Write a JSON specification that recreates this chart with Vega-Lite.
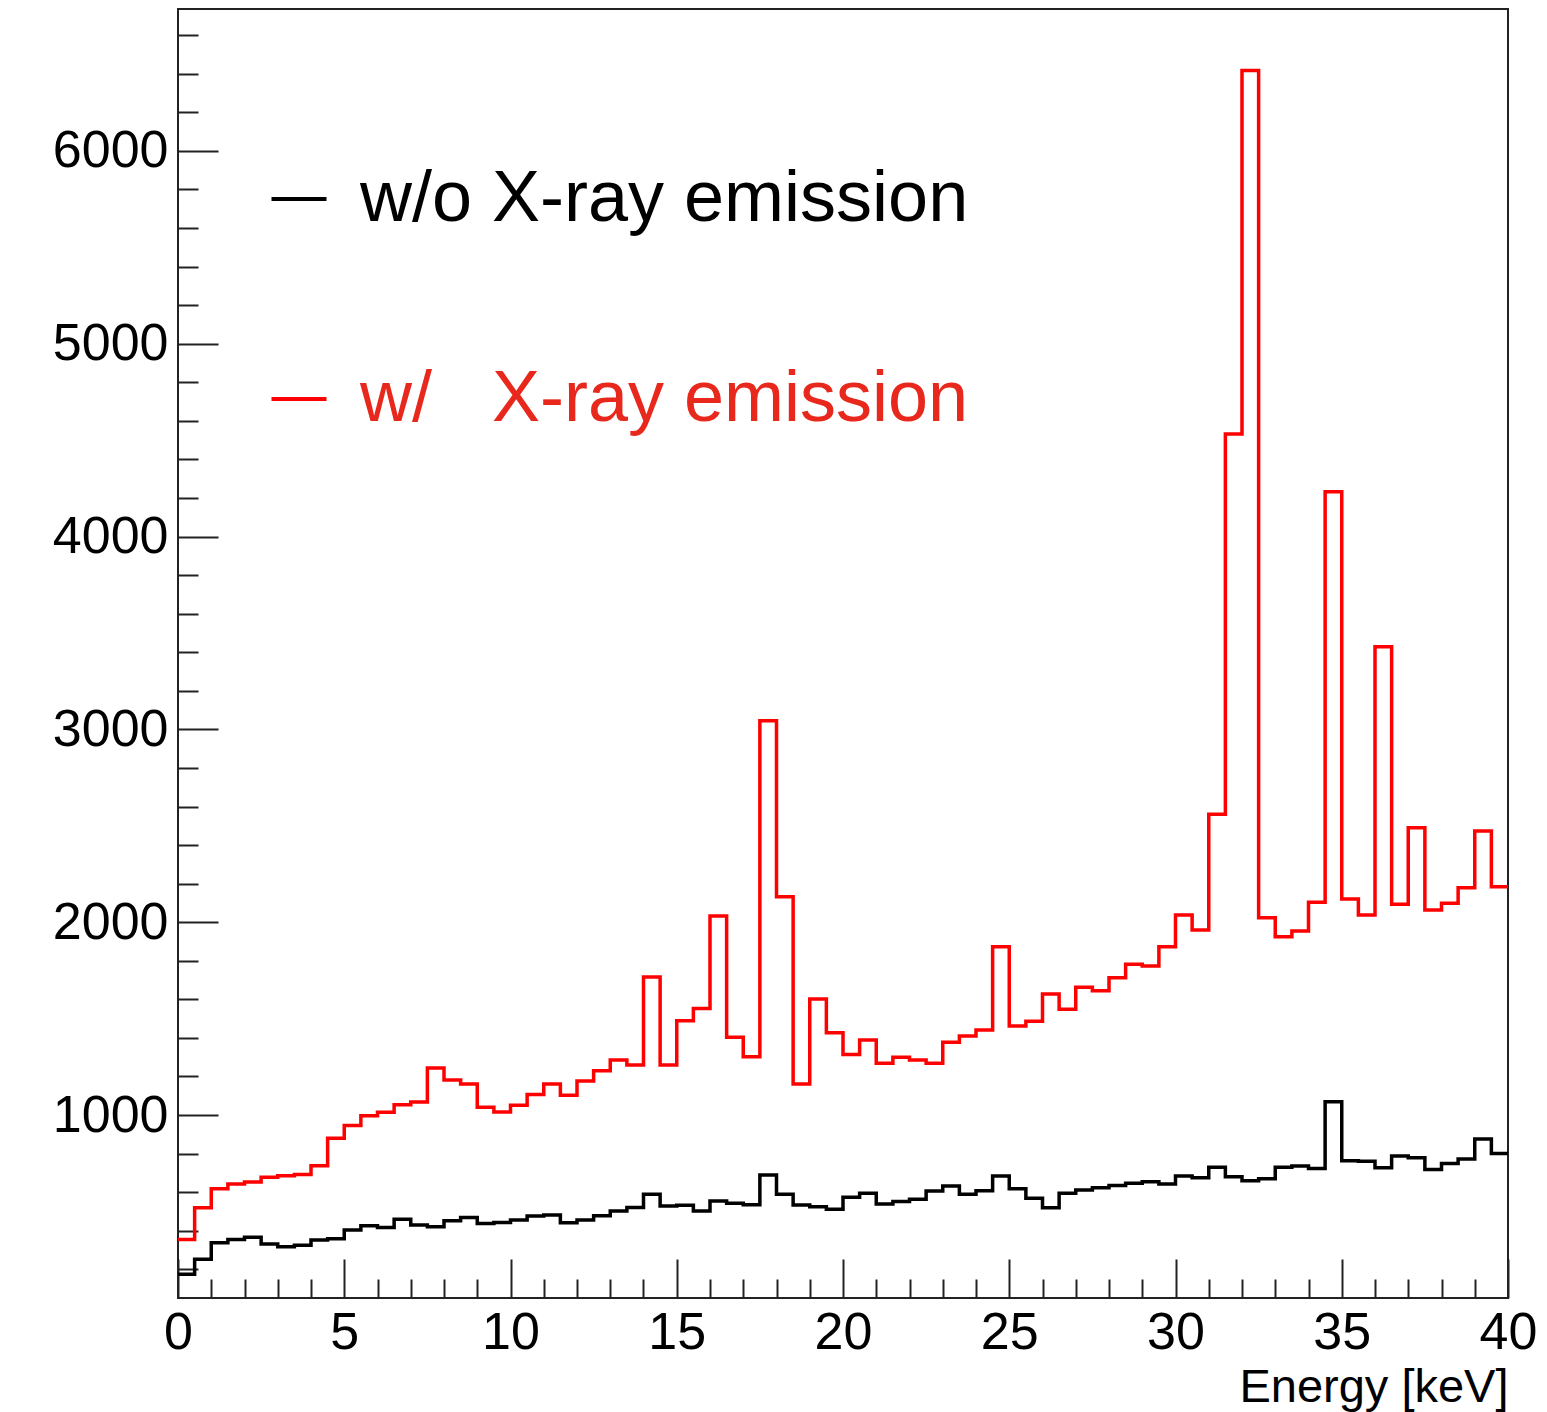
{
  "$schema": "https://vega.github.io/schema/vega-lite/v6.json",
  "width": 1330,
  "height": 1289,
  "autosize": "none",
  "padding": {"left": 178, "top": 9, "right": 39, "bottom": 114},
  "background": "white",
  "config": {
    "view": {"stroke": "#222222", "strokeWidth": 2},
    "font": "Liberation Sans"
  },
  "data": {
    "values": [
      {"s":"w/o","lo":0,"hi":0.5,"n":174},{"s":"w/o","lo":0.5,"hi":1,"n":252},{"s":"w/o","lo":1,"hi":1.5,"n":338},{"s":"w/o","lo":1.5,"hi":2,"n":355},
      {"s":"w/o","lo":2,"hi":2.5,"n":366},{"s":"w/o","lo":2.5,"hi":3,"n":331},{"s":"w/o","lo":3,"hi":3.5,"n":317},{"s":"w/o","lo":3.5,"hi":4,"n":324},
      {"s":"w/o","lo":4,"hi":4.5,"n":352},{"s":"w/o","lo":4.5,"hi":5,"n":358},{"s":"w/o","lo":5,"hi":5.5,"n":404},{"s":"w/o","lo":5.5,"hi":6,"n":426},
      {"s":"w/o","lo":6,"hi":6.5,"n":416},{"s":"w/o","lo":6.5,"hi":7,"n":459},{"s":"w/o","lo":7,"hi":7.5,"n":429},{"s":"w/o","lo":7.5,"hi":8,"n":421},
      {"s":"w/o","lo":8,"hi":8.5,"n":452},{"s":"w/o","lo":8.5,"hi":9,"n":469},{"s":"w/o","lo":9,"hi":9.5,"n":438},{"s":"w/o","lo":9.5,"hi":10,"n":443},
      {"s":"w/o","lo":10,"hi":10.5,"n":455},{"s":"w/o","lo":10.5,"hi":11,"n":476},{"s":"w/o","lo":11,"hi":11.5,"n":481},{"s":"w/o","lo":11.5,"hi":12,"n":441},
      {"s":"w/o","lo":12,"hi":12.5,"n":455},{"s":"w/o","lo":12.5,"hi":13,"n":478},{"s":"w/o","lo":13,"hi":13.5,"n":502},{"s":"w/o","lo":13.5,"hi":14,"n":521},
      {"s":"w/o","lo":14,"hi":14.5,"n":589},{"s":"w/o","lo":14.5,"hi":15,"n":528},{"s":"w/o","lo":15,"hi":15.5,"n":532},{"s":"w/o","lo":15.5,"hi":16,"n":502},
      {"s":"w/o","lo":16,"hi":16.5,"n":554},{"s":"w/o","lo":16.5,"hi":17,"n":542},{"s":"w/o","lo":17,"hi":17.5,"n":535},{"s":"w/o","lo":17.5,"hi":18,"n":689},
      {"s":"w/o","lo":18,"hi":18.5,"n":589},{"s":"w/o","lo":18.5,"hi":19,"n":533},{"s":"w/o","lo":19,"hi":19.5,"n":524},{"s":"w/o","lo":19.5,"hi":20,"n":511},
      {"s":"w/o","lo":20,"hi":20.5,"n":573},{"s":"w/o","lo":20.5,"hi":21,"n":594},{"s":"w/o","lo":21,"hi":21.5,"n":538},{"s":"w/o","lo":21.5,"hi":22,"n":552},
      {"s":"w/o","lo":22,"hi":22.5,"n":563},{"s":"w/o","lo":22.5,"hi":23,"n":606},{"s":"w/o","lo":23,"hi":23.5,"n":632},{"s":"w/o","lo":23.5,"hi":24,"n":589},
      {"s":"w/o","lo":24,"hi":24.5,"n":607},{"s":"w/o","lo":24.5,"hi":25,"n":684},{"s":"w/o","lo":25,"hi":25.5,"n":618},{"s":"w/o","lo":25.5,"hi":26,"n":568},
      {"s":"w/o","lo":26,"hi":26.5,"n":519},{"s":"w/o","lo":26.5,"hi":27,"n":594},{"s":"w/o","lo":27,"hi":27.5,"n":611},{"s":"w/o","lo":27.5,"hi":28,"n":623},
      {"s":"w/o","lo":28,"hi":28.5,"n":635},{"s":"w/o","lo":28.5,"hi":29,"n":646},{"s":"w/o","lo":29,"hi":29.5,"n":654},{"s":"w/o","lo":29.5,"hi":30,"n":642},
      {"s":"w/o","lo":30,"hi":30.5,"n":684},{"s":"w/o","lo":30.5,"hi":31,"n":675},{"s":"w/o","lo":31,"hi":31.5,"n":729},{"s":"w/o","lo":31.5,"hi":32,"n":680},
      {"s":"w/o","lo":32,"hi":32.5,"n":659},{"s":"w/o","lo":32.5,"hi":33,"n":670},{"s":"w/o","lo":33,"hi":33.5,"n":729},{"s":"w/o","lo":33.5,"hi":34,"n":735},
      {"s":"w/o","lo":34,"hi":34.5,"n":722},{"s":"w/o","lo":34.5,"hi":35,"n":1069},{"s":"w/o","lo":35,"hi":35.5,"n":763},{"s":"w/o","lo":35.5,"hi":36,"n":760},
      {"s":"w/o","lo":36,"hi":36.5,"n":727},{"s":"w/o","lo":36.5,"hi":37,"n":787},{"s":"w/o","lo":37,"hi":37.5,"n":779},{"s":"w/o","lo":37.5,"hi":38,"n":718},
      {"s":"w/o","lo":38,"hi":38.5,"n":749},{"s":"w/o","lo":38.5,"hi":39,"n":772},{"s":"w/o","lo":39,"hi":39.5,"n":876},{"s":"w/o","lo":39.5,"hi":40,"n":801},
      {"s":"w/","lo":0,"hi":0.5,"n":355},{"s":"w/","lo":0.5,"hi":1,"n":519},{"s":"w/","lo":1,"hi":1.5,"n":618},{"s":"w/","lo":1.5,"hi":2,"n":642},
      {"s":"w/","lo":2,"hi":2.5,"n":652},{"s":"w/","lo":2.5,"hi":3,"n":677},{"s":"w/","lo":3,"hi":3.5,"n":685},{"s":"w/","lo":3.5,"hi":4,"n":692},
      {"s":"w/","lo":4,"hi":4.5,"n":737},{"s":"w/","lo":4.5,"hi":5,"n":879},{"s":"w/","lo":5,"hi":5.5,"n":945},{"s":"w/","lo":5.5,"hi":6,"n":996},
      {"s":"w/","lo":6,"hi":6.5,"n":1014},{"s":"w/","lo":6.5,"hi":7,"n":1053},{"s":"w/","lo":7,"hi":7.5,"n":1067},{"s":"w/","lo":7.5,"hi":8,"n":1244},
      {"s":"w/","lo":8,"hi":8.5,"n":1182},{"s":"w/","lo":8.5,"hi":9,"n":1161},{"s":"w/","lo":9,"hi":9.5,"n":1040},{"s":"w/","lo":9.5,"hi":10,"n":1016},
      {"s":"w/","lo":10,"hi":10.5,"n":1050},{"s":"w/","lo":10.5,"hi":11,"n":1107},{"s":"w/","lo":11,"hi":11.5,"n":1161},{"s":"w/","lo":11.5,"hi":12,"n":1102},
      {"s":"w/","lo":12,"hi":12.5,"n":1176},{"s":"w/","lo":12.5,"hi":13,"n":1230},{"s":"w/","lo":13,"hi":13.5,"n":1285},{"s":"w/","lo":13.5,"hi":14,"n":1259},
      {"s":"w/","lo":14,"hi":14.5,"n":1716},{"s":"w/","lo":14.5,"hi":15,"n":1259},{"s":"w/","lo":15,"hi":15.5,"n":1489},{"s":"w/","lo":15.5,"hi":16,"n":1553},
      {"s":"w/","lo":16,"hi":16.5,"n":2032},{"s":"w/","lo":16.5,"hi":17,"n":1403},{"s":"w/","lo":17,"hi":17.5,"n":1302},{"s":"w/","lo":17.5,"hi":18,"n":3045},
      {"s":"w/","lo":18,"hi":18.5,"n":2132},{"s":"w/","lo":18.5,"hi":19,"n":1161},{"s":"w/","lo":19,"hi":19.5,"n":1602},{"s":"w/","lo":19.5,"hi":20,"n":1427},
      {"s":"w/","lo":20,"hi":20.5,"n":1314},{"s":"w/","lo":20.5,"hi":21,"n":1389},{"s":"w/","lo":21,"hi":21.5,"n":1268},{"s":"w/","lo":21.5,"hi":22,"n":1299},
      {"s":"w/","lo":22,"hi":22.5,"n":1285},{"s":"w/","lo":22.5,"hi":23,"n":1268},{"s":"w/","lo":23,"hi":23.5,"n":1377},{"s":"w/","lo":23.5,"hi":24,"n":1410},
      {"s":"w/","lo":24,"hi":24.5,"n":1441},{"s":"w/","lo":24.5,"hi":25,"n":1873},{"s":"w/","lo":25,"hi":25.5,"n":1462},{"s":"w/","lo":25.5,"hi":26,"n":1486},
      {"s":"w/","lo":26,"hi":26.5,"n":1628},{"s":"w/","lo":26.5,"hi":27,"n":1548},{"s":"w/","lo":27,"hi":27.5,"n":1662},{"s":"w/","lo":27.5,"hi":28,"n":1645},
      {"s":"w/","lo":28,"hi":28.5,"n":1712},{"s":"w/","lo":28.5,"hi":29,"n":1782},{"s":"w/","lo":29,"hi":29.5,"n":1773},{"s":"w/","lo":29.5,"hi":30,"n":1873},
      {"s":"w/","lo":30,"hi":30.5,"n":2037},{"s":"w/","lo":30.5,"hi":31,"n":1960},{"s":"w/","lo":31,"hi":31.5,"n":2560},{"s":"w/","lo":31.5,"hi":32,"n":4532},
      {"s":"w/","lo":32,"hi":32.5,"n":6417},{"s":"w/","lo":32.5,"hi":33,"n":2023},{"s":"w/","lo":33,"hi":33.5,"n":1925},{"s":"w/","lo":33.5,"hi":34,"n":1954},
      {"s":"w/","lo":34,"hi":34.5,"n":2103},{"s":"w/","lo":34.5,"hi":35,"n":4233},{"s":"w/","lo":35,"hi":35.5,"n":2120},{"s":"w/","lo":35.5,"hi":36,"n":2037},
      {"s":"w/","lo":36,"hi":36.5,"n":3429},{"s":"w/","lo":36.5,"hi":37,"n":2093},{"s":"w/","lo":37,"hi":37.5,"n":2490},{"s":"w/","lo":37.5,"hi":38,"n":2063},
      {"s":"w/","lo":38,"hi":38.5,"n":2098},{"s":"w/","lo":38.5,"hi":39,"n":2179},{"s":"w/","lo":39,"hi":39.5,"n":2473},{"s":"w/","lo":39.5,"hi":40,"n":2184}
    ]
  },
  "transform": [
    {"fold": ["lo", "hi"], "as": ["edge", "E"]}
  ],
  "mark": {"type": "line", "strokeWidth": 3.5, "interpolate": "linear", "clip": true, "strokeJoin": "miter", "strokeCap": "butt"},
  "encoding": {
    "x": {
      "field": "E", "type": "quantitative",
      "scale": {"domain": [0, 40], "nice": false, "zero": false},
      "axis": {
        "title": "Energy [keV]",
        "titleFontSize": 47, "titleFontWeight": "normal", "titleFont": "Liberation Sans", "titleColor": "black",
        "titleAnchor": "end", "titleAlign": "right", "titleBaseline": "alphabetic", "titleX": 1330, "titleY": 103,
        "values": [0,1,2,3,4,5,6,7,8,9,10,11,12,13,14,15,16,17,18,19,20,21,22,23,24,25,26,27,28,29,30,31,32,33,34,35,36,37,38,39,40],
        "labelExpr": "datum.value % 5 === 0 ? datum.label : ''",
        "labelFontSize": 52, "labelFont": "Liberation Sans", "labelColor": "black",
        "labelFlush": false, "labelOverlap": false, "labelPadding": 48,
        "domain": false, "grid": false,
        "tickColor": "#222222", "tickWidth": 2,
        "tickSize": {"condition": {"test": "datum.value % 5 === 0", "value": -39}, "value": -19}
      }
    },
    "y": {
      "field": "n", "type": "quantitative",
      "scale": {"domain": [51, 6736], "nice": false, "zero": false},
      "axis": {
        "title": null,
        "values": [200,400,600,800,1000,1200,1400,1600,1800,2000,2200,2400,2600,2800,3000,3200,3400,3600,3800,4000,4200,4400,4600,4800,5000,5200,5400,5600,5800,6000,6200,6400,6600],
        "labelExpr": "datum.value % 1000 === 0 ? datum.label : ''",
        "format": "d",
        "labelFontSize": 52, "labelFont": "Liberation Sans", "labelColor": "black",
        "labelFlush": false, "labelOverlap": false, "labelPadding": 50,
        "domain": false, "grid": false,
        "tickColor": "#222222", "tickWidth": 2,
        "tickSize": {"condition": {"test": "datum.value % 1000 === 0", "value": -40}, "value": -20}
      }
    },
    "color": {
      "field": "s", "type": "nominal",
      "scale": {"domain": ["w/o", "w/"], "range": ["black", "#ff0000"]},
      "legend": {
        "title": null,
        "orient": "none", "legendX": 85, "legendY": 154, "direction": "vertical",
        "symbolType": "stroke", "symbolSize": 3025, "symbolStrokeWidth": 4,
        "labelFontSize": 72, "labelFont": "Liberation Sans", "labelOffset": 25, "labelLimit": 2000,
        "rowPadding": 128,
        "labelExpr": "datum.value == 'w/o' ? 'w/o X-ray emission' : 'w/\u00a0\u00a0\u00a0X-ray emission'",
        "encode": {"labels": {"update": {"fill": {"signal": "datum.value == 'w/o' ? 'black' : '#e8281c'"}}}}
      }
    },
    "order": {"value": null}
  }
}
